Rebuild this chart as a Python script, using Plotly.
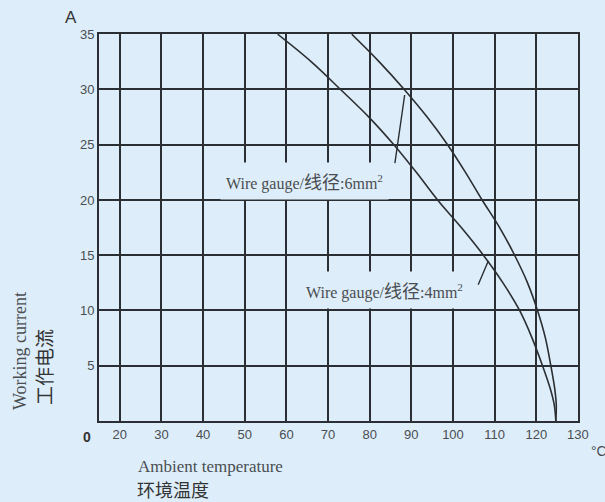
import plotly.graph_objects as go

# Data
temp_4mm = [57.9, 66.0, 73.0, 79.8, 85.8, 91.2, 96.3, 102.0, 107.3, 112.0, 116.0, 119.0, 121.5, 123.3, 124.3, 124.7]
curr_4mm = [35, 32.5, 30, 27.5, 25, 22.5, 20, 17.5, 15, 12.5, 10, 7.5, 5, 3, 1.5, 0]
temp_6mm = [75.7, 82.3, 88.3, 93.8, 98.7, 103.0, 107.0, 111.2, 114.8, 117.9, 120.3, 122.2, 123.5, 124.4, 124.8, 124.7]
curr_6mm = [35, 32.5, 30, 27.5, 25, 22.5, 20, 17.5, 15, 12.5, 10, 7.5, 5, 3, 1.5, 0]

x_ticks = [20, 30, 40, 50, 60, 70, 80, 90, 100, 110, 120, 130]
y_ticks = [5, 10, 15, 20, 25, 30, 35]

BG = "#ddedf9"
LINE = "#2b2f33"
TXT = "#4a4d52"

L, T = 99, 34
PW, PH = 479, 387

fig = go.Figure()
fig.add_trace(go.Scatter(x=temp_4mm, y=curr_4mm, mode="lines",
                         line=dict(color=LINE, width=1.6, shape="spline", smoothing=1.0),
                         hoverinfo="skip", showlegend=False))
fig.add_trace(go.Scatter(x=temp_6mm, y=curr_6mm, mode="lines",
                         line=dict(color=LINE, width=1.6, shape="spline", smoothing=1.0),
                         hoverinfo="skip", showlegend=False))

fig.update_layout(
    width=605, height=502,
    margin=dict(l=L, r=27, t=T, b=81),
    paper_bgcolor=BG, plot_bgcolor=BG,
    showlegend=False,
    xaxis=dict(range=[15, 130.02], tickvals=x_ticks, ticktext=[str(v) for v in x_ticks],
               showgrid=True, gridcolor=LINE, gridwidth=1.5,
               showline=True, linecolor=LINE, linewidth=1.8, mirror=True,
               zeroline=False, ticks="", ticklen=0, ticklabeloverflow="allow",
               tickfont=dict(family="Liberation Sans", size=13, color=TXT)),
    yaxis=dict(range=[0, 35.02], tickvals=y_ticks, ticktext=[str(v) for v in y_ticks],
               showgrid=True, gridcolor=LINE, gridwidth=1.5,
               showline=True, linecolor=LINE, linewidth=1.8, mirror=True,
               zeroline=False, ticks="", ticklen=0,
               tickfont=dict(family="Liberation Sans", size=13, color=TXT)),
)


def px(xp):
    return (xp - 99) / PW


def py(yp):
    return (421 - yp) / PH


label_font = dict(family="Liberation Serif", size=16, color=TXT)
cjk = "font-family:'Noto Sans CJK SC';font-size:18px"

# curve labels with leaders
fig.add_annotation(x=64.4, y=21.7, xref="x", yref="y",
                   text="Wire gauge/<span style=\"%s\">线径</span>:6mm<sup>2</sup>" % cjk,
                   showarrow=False, font=label_font, bgcolor=BG, borderpad=5)
fig.add_annotation(x=88.4, y=29.5, xref="x", yref="y", ax=86.0, ay=23.2,
                   axref="x", ayref="y", text="", showarrow=True,
                   arrowhead=0, arrowwidth=1.4, arrowcolor=LINE)
fig.add_annotation(x=83.6, y=11.9, xref="x", yref="y",
                   text="Wire gauge/<span style=\"%s\">线径</span>:4mm<sup>2</sup>" % cjk,
                   showarrow=False, font=label_font, bgcolor=BG, borderpad=5)
fig.add_annotation(x=108.5, y=14.5, xref="x", yref="y", ax=105.9, ay=12.2,
                   axref="x", ayref="y", text="", showarrow=True,
                   arrowhead=0, arrowwidth=1.4, arrowcolor=LINE)

# axis extras
fig.add_annotation(xref="paper", yref="paper", x=px(71), y=py(17), text="A", showarrow=False,
                   xanchor="center", yanchor="middle",
                   font=dict(family="Liberation Sans", size=17, color="#333"))
fig.add_annotation(xref="paper", yref="paper", x=px(87), y=py(437),
                   text="<b>0</b>", showarrow=False, xanchor="center", yanchor="middle",
                   font=dict(family="Liberation Sans", size=14, color="#333"))
fig.add_annotation(xref="paper", yref="paper", x=px(589), y=py(451),
                   text="°C", showarrow=False, xanchor="left", yanchor="middle",
                   font=dict(family="Liberation Sans", size=14, color=TXT))
fig.add_annotation(xref="paper", yref="paper", x=px(136), y=py(466),
                   text="Ambient temperature", showarrow=False, xanchor="left", yanchor="middle",
                   font=dict(family="Liberation Serif", size=17, color=TXT))
fig.add_annotation(xref="paper", yref="paper", x=px(135), y=py(489),
                   text="环境温度", showarrow=False, xanchor="left", yanchor="middle",
                   font=dict(family="Noto Sans CJK SC", size=18, color="#333"))
fig.add_annotation(xref="paper", yref="paper", x=px(20), y=py(351),
                   text="Working current", showarrow=False, textangle=-90,
                   xanchor="center", yanchor="middle",
                   font=dict(family="Liberation Serif", size=18, color=TXT))
fig.add_annotation(xref="paper", yref="paper", x=px(43), y=py(367),
                   text="工作电流", showarrow=False, textangle=-90,
                   xanchor="center", yanchor="middle",
                   font=dict(family="Noto Sans CJK SC", size=19, color="#333"))

fig.write_html(
    "out.html",
    config={"displayModeBar": False},
    post_script=(
        "document.documentElement.style.margin='0';"
        "document.body.style.margin='0';"
        "document.documentElement.style.overflow='hidden';"
        "document.body.style.overflow='hidden';"
    ),
)
